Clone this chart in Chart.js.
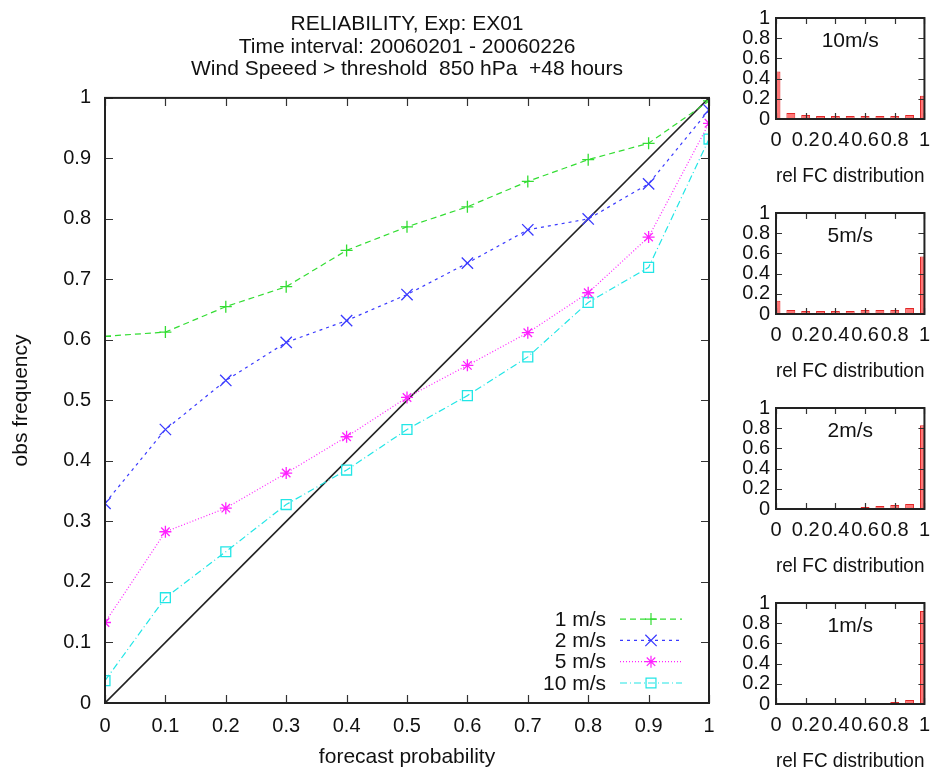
<!DOCTYPE html>
<html>
<head>
<meta charset="utf-8">
<script src="https://cdn.jsdelivr.net/npm/chart.js@4.4.1/dist/chart.umd.min.js"></script>
<style>
  html, body { margin: 0; padding: 0; background: #fff; }
  #wrap { position: relative; width: 939px; height: 772px; overflow: hidden; }
  canvas { position: absolute; }
</style>
</head>
<body>
<div id="wrap">
  <canvas id="main" width="814" height="772" style="left:0;top:0;z-index:1"></canvas>
  <canvas id="h10" width="219" height="195" style="left:720px;top:0;z-index:2"></canvas>
  <canvas id="h5" width="219" height="195" style="left:720px;top:195px;z-index:2"></canvas>
  <canvas id="h2" width="219" height="195" style="left:720px;top:390px;z-index:2"></canvas>
  <canvas id="h1" width="219" height="195" style="left:720px;top:585px;z-index:2"></canvas>
</div>
<script>
// forecast probability bins (x axis of every panel)
const probBins = [0, 0.1, 0.2, 0.3, 0.4, 0.5, 0.6, 0.7, 0.8, 0.9, 1];

// reliability curves (obs frequency)
const seriesLabels = ['1 m/s', '2 m/s', '5 m/s', '10 m/s'];
const obs1  = [0.606, 0.613, 0.655, 0.688, 0.748, 0.787, 0.820, 0.862, 0.898, 0.925, 0.995];
const obs2  = [0.330, 0.452, 0.533, 0.596, 0.632, 0.675, 0.727, 0.782, 0.800, 0.858, 0.980];
const obs5  = [0.133, 0.283, 0.322, 0.380, 0.440, 0.505, 0.558, 0.612, 0.678, 0.770, 0.958];
const obs10 = [0.037, 0.174, 0.250, 0.328, 0.385, 0.452, 0.508, 0.572, 0.662, 0.720, 0.932];

// relative forecast distribution per threshold
const histLabels = ['10m/s', '5m/s', '2m/s', '1m/s'];
const hist10 = [0.47, 0.06, 0.04, 0.03, 0.03, 0.03, 0.03, 0.03, 0.03, 0.04, 0.23];
const hist5  = [0.13, 0.04, 0.03, 0.03, 0.03, 0.03, 0.04, 0.04, 0.04, 0.06, 0.57];
const hist2  = [0.01, 0.01, 0.01, 0.01, 0.01, 0.01, 0.02, 0.03, 0.04, 0.05, 0.83];
const hist1  = [0.00, 0.00, 0.00, 0.00, 0.00, 0.005, 0.005, 0.01, 0.02, 0.04, 0.92];

const FONT = '"Liberation Sans", Arial, sans-serif';
const fmt = v => String(+v.toFixed(1));

// gnuplot style frame with inward ticks on all four sides
const frameTicks = {
  id: 'frameTicks',
  afterDatasetsDraw(chart, args, opts) {
    const { ctx, chartArea: a, scales: { x, y } } = chart;
    const len = opts.len;
    ctx.save();
    ctx.strokeStyle = '#333';
    ctx.lineWidth = 1.2;
    ctx.beginPath();
    x.ticks.forEach(t => {
      const px = Math.round(x.getPixelForValue(t.value)) + 0.5;
      ctx.moveTo(px, a.bottom); ctx.lineTo(px, a.bottom - len);
      ctx.moveTo(px, a.top); ctx.lineTo(px, a.top + len);
    });
    y.ticks.forEach(t => {
      const py = Math.round(y.getPixelForValue(t.value)) + 0.5;
      ctx.moveTo(a.left, py); ctx.lineTo(a.left + len, py);
      ctx.moveTo(a.right, py); ctx.lineTo(a.right - len, py);
    });
    ctx.stroke();
    ctx.lineWidth = 2;
    ctx.strokeStyle = '#222';
    ctx.strokeRect(a.left, a.top, a.right - a.left, a.bottom - a.top);
    ctx.restore();
  }
};

// key in the lower right of the plot, text first then the sample
const insideLegend = {
  id: 'insideLegend',
  afterDraw(chart) {
    const { ctx, chartArea: a } = chart;
    const sets = chart.data.datasets.filter(d => d.label);
    ctx.save();
    ctx.font = '21px ' + FONT;
    ctx.textAlign = 'right';
    ctx.textBaseline = 'middle';
    sets.forEach((d, i) => {
      const y = a.bottom - 20 - (sets.length - 1 - i) * 21.3;
      ctx.fillStyle = '#111';
      ctx.fillText(d.label, a.right - 103, y + 1);
      ctx.strokeStyle = d.borderColor;
      ctx.lineWidth = d.borderWidth;
      ctx.setLineDash(d.borderDash || []);
      ctx.beginPath();
      ctx.moveTo(a.right - 89, y); ctx.lineTo(a.right - 27, y);
      ctx.stroke();
      ctx.setLineDash([]);
      ctx.fillStyle = 'rgba(0,0,0,0)';
      Chart.helpers.drawPoint(ctx, {
        pointStyle: d.pointStyle, radius: d.pointRadius, rotation: 0,
        borderWidth: d.pointBorderWidth
      }, a.right - 58, y);
    });
    ctx.restore();
  }
};

// threshold name inside the histogram panels
const panelLabel = {
  id: 'panelLabel',
  afterDraw(chart, args, opts) {
    const { ctx, chartArea: a } = chart;
    ctx.save();
    ctx.font = '21px ' + FONT;
    ctx.fillStyle = '#111';
    ctx.textAlign = 'center';
    ctx.textBaseline = 'middle';
    ctx.fillText(opts.text, (a.left + a.right) / 2, a.top + 23);
    ctx.restore();
  }
};

function curve(label, values, color, style, radius, dash) {
  return {
    label: label,
    data: values.map((v, i) => ({ x: probBins[i], y: v })),
    borderColor: color,
    backgroundColor: 'rgba(0,0,0,0)',
    pointBorderColor: color,
    pointBackgroundColor: 'rgba(0,0,0,0)',
    borderWidth: 1.2,
    borderDash: dash,
    pointStyle: style,
    pointRadius: radius,
    pointBorderWidth: 1.3,
    tension: 0
  };
}

new Chart(document.getElementById('main'), {
  type: 'line',
  data: {
    datasets: [
      curve(seriesLabels[0], obs1, '#33dd33', 'cross', 6, [6, 4]),
      curve(seriesLabels[1], obs2, '#3a3aff', 'crossRot', 8, [3, 4]),
      curve(seriesLabels[2], obs5, '#ff22ff', 'star', 6, [1, 2]),
      curve(seriesLabels[3], obs10, '#22e6e6', 'rect', 7, [7, 3, 1, 3]),
      {
        label: '',
        data: [{ x: 0, y: 0 }, { x: 1, y: 1 }],
        borderColor: '#222',
        borderWidth: 1.6,
        pointRadius: 0
      }
    ]
  },
  options: {
    responsive: false,
    animation: false,
    devicePixelRatio: 1,
    layout: { padding: 0 },
    plugins: {
      legend: { display: false },
      tooltip: { enabled: false },
      title: {
        display: true,
        text: ['RELIABILITY, Exp: EX01', 'Time interval: 20060201 - 20060226', 'Wind Speeed > threshold  850 hPa  +48 hours'],
        color: '#111',
        font: { family: FONT, size: 21, weight: 'normal', lineHeight: 1.07 },
        padding: { top: 13, bottom: 17.5 }
      },
      frameTicks: { len: 8 }
    },
    scales: {
      x: {
        type: 'linear', min: 0, max: 1,
        afterFit: s => { s.height = 69; },
        grid: { display: false, drawTicks: false },
        border: { display: false },
        ticks: { stepSize: 0.1, padding: 11, autoSkip: false, maxRotation: 0, color: '#111', font: { family: FONT, size: 20 }, callback: fmt },
        title: { display: true, text: 'forecast probability', color: '#111', font: { family: FONT, size: 21 }, padding: { top: 0, bottom: 2 } }
      },
      y: {
        min: 0, max: 1,
        afterFit: s => { s.width = 105; },
        grid: { display: false, drawTicks: false },
        border: { display: false },
        ticks: { stepSize: 0.1, padding: 14, autoSkip: false, color: '#111', font: { family: FONT, size: 20 }, callback: fmt },
        title: { display: true, text: 'obs frequency', color: '#111', font: { family: FONT, size: 21 }, padding: { top: 9, bottom: 0 } }
      },
      // right side axis without labels, keeps the plot centred under the title
      y2: {
        position: 'right', min: 0, max: 1,
        afterFit: s => { s.width = 105; },
        grid: { display: false, drawTicks: false },
        border: { display: false },
        ticks: { display: false }
      }
    }
  },
  plugins: [frameTicks, insideLegend]
});

const histSets = [hist10, hist5, hist2, hist1];
['h10', 'h5', 'h2', 'h1'].forEach((id, k) => {
  const canvas = document.getElementById(id);
  new Chart(canvas, {
    type: 'bar',
    data: {
      datasets: [{
        data: histSets[k].map((v, i) => ({ x: probBins[i], y: v })),
        backgroundColor: 'rgba(255,85,85,0.8)',
        borderColor: '#e02828',
        borderWidth: 1,
        barPercentage: 0.6,
        categoryPercentage: 1
      }]
    },
    options: {
      responsive: false,
      animation: false,
      devicePixelRatio: 1,
      layout: { padding: { left: 0, right: 11, top: 15, bottom: 0 } },
      plugins: {
        legend: { display: false },
        tooltip: { enabled: false },
        frameTicks: { len: 6 },
        panelLabel: { text: histLabels[k] }
      },
      scales: {
        x: {
          type: 'linear', min: 0, max: 1, offset: false,
          afterFit: s => { s.height = 195 - 15 - 104; },
          grid: { display: false, drawTicks: false },
          border: { display: false },
          ticks: { stepSize: 0.2, padding: 9, maxRotation: 0, autoSkip: false, color: '#111', font: { family: FONT, size: 20 }, callback: fmt },
          title: { display: true, text: 'rel FC distribution', color: '#111', font: { family: FONT, size: 21 }, padding: { top: 0, bottom: 6 } }
        },
        y: {
          min: 0, max: 1,
          afterFit: s => { s.width = 56; },
          grid: { display: false, drawTicks: false },
          border: { display: false },
          ticks: { stepSize: 0.2, padding: 6, autoSkip: false, color: '#111', font: { family: FONT, size: 20 }, callback: fmt }
        }
      }
    },
    plugins: [frameTicks, panelLabel]
  });
});
</script>
</body>
</html>
